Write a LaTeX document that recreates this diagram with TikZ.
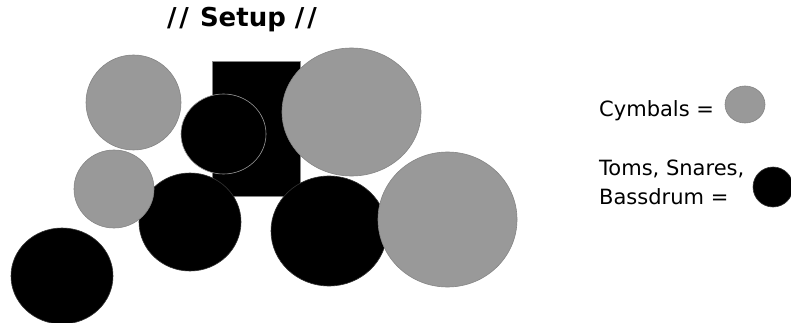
\documentclass[tikz,border=0pt]{standalone}
\usepackage{fontspec}
\setmainfont{DejaVu Sans}
\definecolor{cymgray}{HTML}{999999}
\definecolor{cymedge}{HTML}{858585}
\definecolor{drumedge}{HTML}{333333}
\tikzset{
	cymbal/.style={fill=cymgray,draw=cymedge,line width=0.6pt},
	drum/.style={fill=black,draw=drumedge,line width=0.6pt},
	legend/.style={anchor=west,align=left,inner sep=0pt,font=\fontsize{21}{29}\selectfont}
}
\begin{document}
\begin{tikzpicture}[x=1pt,y=-1pt]
	\useasboundingbox (0,0) rectangle (791,323);
	\node[font=\bfseries\fontsize{26}{30}\selectfont] (title) at (242,20) {/\kern3pt/\kern2pt{} Setup /\kern3pt/};
	\draw[cymbal] (133.5,102.5) ellipse (47.5pt and 47.5pt);
	\draw[fill=black,draw=cymedge,line width=0.4pt] (212,61) rectangle (300,196);
	\draw[fill=black,draw=cymgray,line width=0.6pt] (223.5,134) ellipse (42.5pt and 40pt);
	\draw[cymbal] (351.5,112) ellipse (69.5pt and 64pt);
	\draw[drum] (190,222) ellipse (51pt and 49pt);
	\draw[cymbal] (114,189) ellipse (40pt and 39pt);
	\draw[drum] (62,276) ellipse (51pt and 48pt);
	\draw[drum] (329,231) ellipse (58pt and 55pt);
	\draw[cymbal] (447.5,219.5) ellipse (69.5pt and 67.5pt);
	\node[legend] (cymtext) at (599,111) {Cymbals =};
	\draw[cymbal] (745,104.5) ellipse (20pt and 18.5pt);
	\node[legend] (drumtext) at (599,182) {Toms, Snares,\\Bassdrum =};
	\draw[drum] (773,187) ellipse (20pt and 20pt);
\end{tikzpicture}
\end{document}
